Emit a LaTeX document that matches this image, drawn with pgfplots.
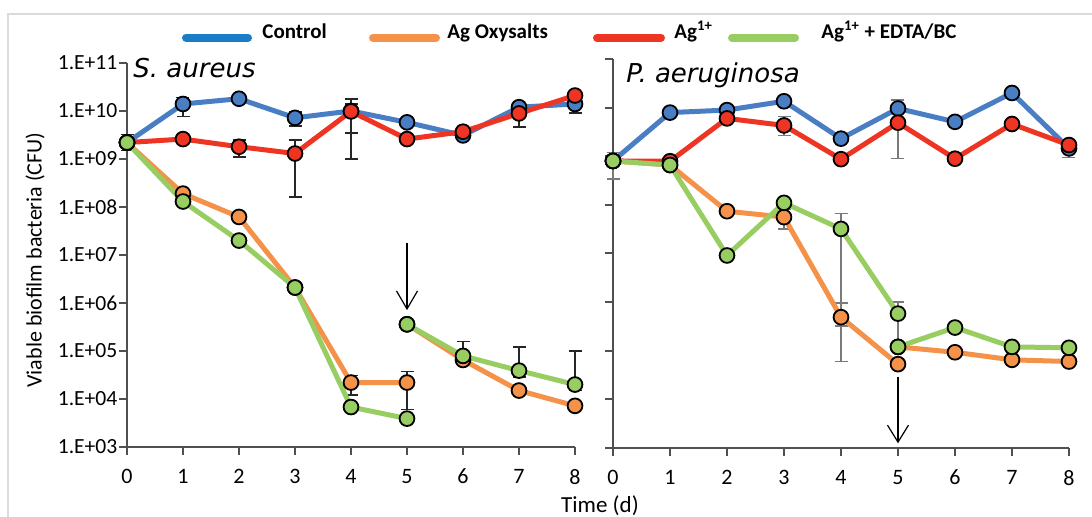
\documentclass[border=0pt]{standalone}
\usepackage{pgfplots}
\pgfplotsset{compat=1.18}
\usepackage{fontspec}
\setmainfont{Carlito}
\newfontfamily\dejavu{DejaVu Sans}
\usetikzlibrary{arrows.meta}

\definecolor{cblue}{HTML}{4A7EC4}
\definecolor{lblue}{HTML}{1A7DC6}
\definecolor{corange}{HTML}{F5924A}
\definecolor{cred}{HTML}{EE3524}
\definecolor{cgreen}{HTML}{98CD62}
\definecolor{axgray}{HTML}{505050}
\definecolor{errgray}{HTML}{7A7A7A}

\pgfplotsset{
  myaxisstyle/.style={
    scale only axis, xmin=0, xmax=8, ymin=1e3, ymax=1e11,
    axis lines=left, axis line style={-, draw=axgray, line width=1pt},
    every tick/.style={draw=axgray, line width=1pt},
    tick align=outside, major tick length=4pt,
    xtick={0,1,2,3,4,5,6,7,8},
    ytick={1e3,1e4,1e5,1e6,1e7,1e8,1e9,1e10,1e11},
    yminorticks=false,
    clip=false,
    /pgf/number format/assume math mode=true,
    yticklabel style={font=\fontsize{10.8}{12}\selectfont, inner sep=0.6pt},
    xticklabel style={font=\fontsize{11}{13}\selectfont, yshift=-3.5pt},
  },
  myser/.style={color=#1, line width=2.5pt, mark=*, mark size=3.7pt,
    mark options={draw=black, fill=#1, line width=0.9pt}},
  myerr/.style={only marks, mark=none,
    error bars/y dir=both, error bars/y explicit,
    error bars/error bar style={draw=#1, line width=0.75pt},
    error bars/error mark options={draw=#1, rotate=90, mark size=3.25pt, line width=0.75pt}},
}

\begin{document}
\begin{tikzpicture}
\path[use as bounding box] (0pt,0pt) rectangle (546pt,258.5pt);
\draw[black!14, line width=0.8pt] (4pt,0pt) -- (4pt,251.5pt) -- (546pt,251.5pt);

% ---------------- S. aureus ----------------
\begin{axis}[ymode=log, myaxisstyle, at={(63.5pt,35pt)}, anchor=south west, width=224pt, height=192pt,
  yticklabels={1.E+03,1.E+04,1.E+05,1.E+06,1.E+07,1.E+08,1.E+09,1.E+10,1.E+11}]
\addplot[myerr=black!85] coordinates {
 (0,2.2e9) += (0,1.0e9) -= (0,0.7e9)
 (1,1.4e10) += (0,5e9) -= (0,6.4e9)
 (3,7.2e9) += (0,2.3e9) -= (0,2.3e9)
 (4,1.0e10) += (0,4e9) -= (0,6.5e9)
 (8,1.4e10) += (0,5e9) -= (0,5e9)
 (2,1.8e9) += (0,0.7e9) -= (0,0.7e9)
 (3,1.3e9) += (0,1.2e9) -= (0,1.14e9)
 (4,9.8e9) += (0,8e9) -= (0,8.8e9)
 (7,8.9e9) += (0,4.3e9) -= (0,4.3e9)
 (4,2.2e4) += (0,9e3) -= (0,1e4)
 (5,2.2e4) += (0,1.5e4) -= (0,1.6e4)
 (6,7.9e4) += (0,8e4) -= (0,1e4)
 (7,3.9e4) += (0,8.1e4) -= (0,1e4)
 (8,2.0e4) += (0,8e4) -= (0,5e3)
};
\addplot[myser=cblue] coordinates {(0,2.2e9) (1,1.4e10) (2,1.8e10) (3,7.2e9) (4,1.0e10) (5,5.8e9) (6,3.1e9) (7,1.2e10) (8,1.4e10)};
\addplot[myser=corange] coordinates {(0,2.2e9) (1,1.9e8) (2,6.2e7) (3,2.1e6) (4,2.2e4) (5,2.2e4)};
\addplot[myser=corange] coordinates {(5,3.6e5) (6,6.5e4) (7,1.5e4) (8,7.2e3)};
\addplot[myser=cred] coordinates {(0,2.2e9) (1,2.6e9) (2,1.8e9) (3,1.3e9) (4,9.8e9) (5,2.6e9) (6,3.7e9) (7,8.9e9) (8,2.1e10)};
\addplot[myser=cgreen] coordinates {(0,2.2e9) (1,1.3e8) (2,2.0e7) (3,2.1e6) (4,6.8e3) (5,3.9e3)};
\addplot[myser=cgreen] coordinates {(5,3.6e5) (6,7.9e4) (7,3.9e4) (8,2.0e4)};
\addplot[black, line width=0.6pt, -{Straight Barb[length=9pt, width=10.5pt, line width=0.6pt]}] coordinates {(5,1.78e7) (5,7.1e5)};
\end{axis}

% ---------------- P. aeruginosa ----------------
\begin{axis}[ymode=log, myaxisstyle, at={(306.5pt,34.5pt)}, anchor=south west, width=228pt, height=194.5pt,
  yticklabels={}]
\addplot[myerr=errgray] coordinates {
 (0,8.0e8) += (0,0.4e9) -= (0,4.6e8)
 (5,9.6e9) += (0,4.9e9) -= (0,8.7e9)
 (8,1.45e9) += (0,0.5e9) -= (0,0.5e9)
 (3,4.3e9) += (0,2.2e9) -= (0,1.6e9)
 (3,5.6e7) += (0,2.4e7) -= (0,2.4e7)
 (4,4.9e5) += (0,4.7e5) -= (0,1.7e5)
 (4,3.2e7) += (0,3.4e7) -= (0,3.194e7)
 (5,5.8e5) += (0,4.2e5) -= (0,4.6e5)
};
\addplot[myser=cblue] coordinates {(0,8.0e8) (1,7.9e9) (2,8.9e9) (3,1.35e10) (4,2.3e9) (5,9.6e9) (6,5.1e9) (7,2.0e10) (8,1.45e9)};
\addplot[myser=corange] coordinates {(0,8.0e8) (1,6.6e8) (2,7.4e7) (3,5.6e7) (4,4.9e5) (5,5.3e4)};
\addplot[myser=corange] coordinates {(5,1.2e5) (6,9.3e4) (7,6.5e4) (8,6.0e4)};
\addplot[myser=cred] coordinates {(0,8.0e8) (1,7.9e8) (2,6.0e9) (3,4.3e9) (4,8.7e8) (5,4.9e9) (6,8.9e8) (7,4.6e9) (8,1.7e9)};
\addplot[myser=cgreen] coordinates {(0,8.0e8) (1,6.6e8) (2,9.1e6) (3,1.1e8) (4,3.2e7) (5,5.8e5)};
\addplot[myser=cgreen] coordinates {(5,1.2e5) (6,3.0e5) (7,1.2e5) (8,1.15e5)};
\addplot[black, line width=0.6pt, -{Straight Barb[length=8.5pt, width=10.5pt, line width=0.6pt]}] coordinates {(5,2.95e4) (5,1.25e3)};
\end{axis}

% titles
\node[anchor=base west, inner sep=0pt, font=\dejavu\itshape\fontsize{13}{15}\selectfont] at (66.5pt,219.75pt) {S. aureus};
\node[anchor=base west, inner sep=0pt, font=\dejavu\itshape\fontsize{13}{15}\selectfont] at (313pt,217.15pt) {P. aeruginosa};

% axis labels
\node[rotate=90, font=\fontsize{11}{13}\selectfont] at (17.5pt,128.5pt) {Viable biofilm bacteria (CFU)};
\node[anchor=base, font=\fontsize{11.5}{13}\selectfont] at (300pt,2pt) {Time (d)};

% legend
\draw[lblue, line width=4pt, line cap=round] (93pt,239.65pt) -- (124pt,239.65pt);
\draw[corange, line width=4pt, line cap=round] (186.5pt,239.65pt) -- (218pt,239.65pt);
\draw[cred, line width=4pt, line cap=round] (298.5pt,239.65pt) -- (330.5pt,239.65pt);
\draw[cgreen, line width=4pt, line cap=round] (366pt,239.65pt) -- (397.5pt,239.65pt);
\begin{scope}[every node/.style={anchor=base west, inner sep=0pt, font=\bfseries\fontsize{10.5}{12}\selectfont}]
\node at (131pt,239.35pt) {Control};
\node at (223.5pt,239.35pt) {Ag Oxysalts};
\node at (337pt,239.35pt) {Ag\textsuperscript{1+}};
\node at (410.5pt,239.35pt) {Ag\textsuperscript{1+} + EDTA/BC};
\end{scope}
\end{tikzpicture}
\end{document}
